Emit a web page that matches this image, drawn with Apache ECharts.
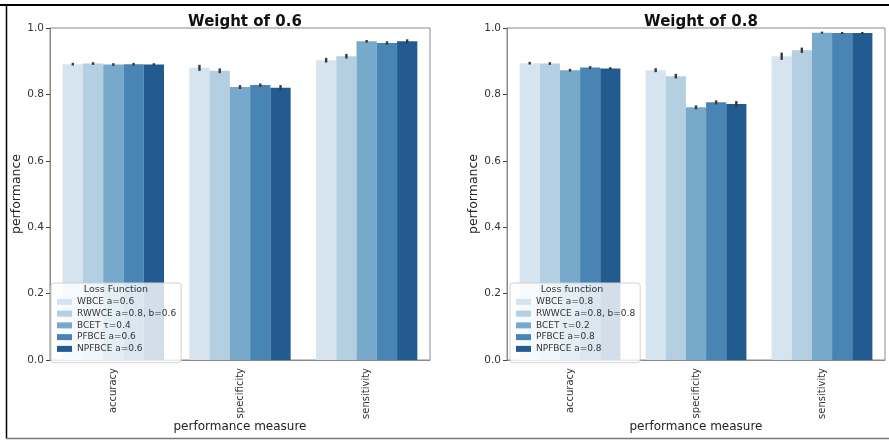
<!DOCTYPE html>
<html><head><meta charset="utf-8">
<script src="https://cdn.jsdelivr.net/npm/echarts@6/dist/echarts.min.js"></script>
<style>html,body{margin:0;padding:0;background:#fff}#c{width:889px;height:440px}</style>
</head><body><div id="c"></div>
<script>
const categories = ['accuracy', 'specificity', 'sensitivity'];
const yTicks = [0.0, 0.2, 0.4, 0.6, 0.8, 1.0];
const colors = ['#d6e4f0', '#b3cfe1', '#77a9cb', '#4884b4', '#225b8f'];

const namesLeft = ['WBCE a=0.6', 'RWWCE a=0.8, b=0.6', 'BCET τ=0.4', 'PFBCE a=0.6', 'NPFBCE a=0.6'];
const namesRight = ['WBCE a=0.8', 'RWWCE a=0.8, b=0.8', 'BCET τ=0.2', 'PFBCE a=0.8', 'NPFBCE a=0.8'];

// values per loss function over [accuracy, specificity, sensitivity]
const left_WBCE   = [0.891, 0.880, 0.903];
const left_RWWCE  = [0.893, 0.871, 0.915];
const left_BCET   = [0.890, 0.822, 0.960];
const left_PFBCE  = [0.891, 0.828, 0.955];
const left_NPFBCE = [0.890, 0.820, 0.960];

const right_WBCE   = [0.894, 0.873, 0.915];
const right_RWWCE  = [0.893, 0.855, 0.933];
const right_BCET   = [0.873, 0.761, 0.986];
const right_PFBCE  = [0.881, 0.776, 0.985];
const right_NPFBCE = [0.878, 0.771, 0.985];

// error bar half-widths
const leftErr_WBCE   = [0.004, 0.009, 0.007];
const leftErr_RWWCE  = [0.004, 0.007, 0.007];
const leftErr_BCET   = [0.004, 0.006, 0.004];
const leftErr_PFBCE  = [0.004, 0.005, 0.005];
const leftErr_NPFBCE = [0.004, 0.008, 0.006];

const rightErr_WBCE   = [0.004, 0.006, 0.011];
const rightErr_RWWCE  = [0.004, 0.007, 0.008];
const rightErr_BCET   = [0.004, 0.006, 0.003];
const rightErr_PFBCE  = [0.004, 0.006, 0.003];
const rightErr_NPFBCE = [0.004, 0.009, 0.003];

const leftVals = [left_WBCE, left_RWWCE, left_BCET, left_PFBCE, left_NPFBCE];
const rightVals = [right_WBCE, right_RWWCE, right_BCET, right_PFBCE, right_NPFBCE];
const leftErrs = [leftErr_WBCE, leftErr_RWWCE, leftErr_BCET, leftErr_PFBCE, leftErr_NPFBCE];
const rightErrs = [rightErr_WBCE, rightErr_RWWCE, rightErr_BCET, rightErr_PFBCE, rightErr_NPFBCE];

const FONT = 'DejaVu Sans';
const chart = echarts.init(document.getElementById('c'), null, {renderer: 'canvas'});

function xAxis(gi) {
  return {
    type: 'category', gridIndex: gi, data: categories,
    name: 'performance measure', nameLocation: 'middle', nameGap: 61, nameMoveOverlap: false,
    nameTextStyle: {fontFamily: FONT, fontSize: 12, color: '#222'},
    axisLine: {lineStyle: {color: '#8a8a8a', width: 1}},
    axisTick: {alignWithLabel: true, length: 4, lineStyle: {color: '#444'}},
    axisLabel: {rotate: 90, fontFamily: FONT, fontSize: 10, color: '#333', margin: 8},
    splitLine: {show: false}
  };
}
function yAxis(gi, gap) {
  return {
    type: 'value', gridIndex: gi, min: 0, max: 1, interval: 0.2,
    name: 'performance', nameLocation: 'middle', nameGap: gap,
    nameTextStyle: {fontFamily: FONT, fontSize: 12.5, color: '#222'},
    axisLine: {show: true, lineStyle: {color: '#8a8a8a', width: 1}},
    axisTick: {show: true, length: 4, lineStyle: {color: '#444'}},
    axisLabel: {fontFamily: FONT, fontSize: 10.5, color: '#333', margin: 6,
      formatter: v => yTicks.find(t => Math.abs(t - v) < 1e-9).toFixed(1)},
    splitLine: {show: false}
  };
}

const series = [];
function addPanel(names, vals, errs, gi) {
  names.forEach((n, i) => {
    series.push({
      type: 'bar', name: n, xAxisIndex: gi, yAxisIndex: gi,
      data: vals[i], barGap: '0%', barCategoryGap: '20%',
      itemStyle: {color: colors[i]}, z: 2
    });
  });
  const errData = [];
  names.forEach((n, i) => {
    categories.forEach((c, ci) => {
      errData.push([ci, vals[i][ci] - errs[i][ci], vals[i][ci] + errs[i][ci], i]);
    });
  });
  series.push({
    type: 'custom', xAxisIndex: gi, yAxisIndex: gi, z: 5, silent: true,
    data: errData,
    encode: {x: 0, y: [1, 2]},
    renderItem: function (params, api) {
      const ci = api.value(0), lo = api.value(1), hi = api.value(2), si = api.value(3);
      const band = api.size([1, 0])[0];
      const p1 = api.coord([ci, lo]);
      const p2 = api.coord([ci, hi]);
      const x = p1[0] - 0.4 * band + (si + 0.5) * 0.16 * band;
      return {type: 'line', shape: {x1: x, y1: p1[1], x2: x, y2: p2[1]},
        style: {stroke: '#3a3a3a', lineWidth: 2.4}};
    }
  });
}
addPanel(namesLeft, leftVals, leftErrs, 0);
addPanel(namesRight, rightVals, rightErrs, 1);

function legend(names, left) {
  return {
    data: names, orient: 'vertical', left: left, top: 283,
    icon: 'rect', itemWidth: 15, itemHeight: 6, itemGap: 0,
    padding: [13, 5, 8, 6],
    backgroundColor: 'rgba(255,255,255,0.8)', borderColor: '#d0d0d0', borderWidth: 1, borderRadius: 3,
    textStyle: {fontFamily: FONT, fontSize: 9, color: '#333', lineHeight: 11.75},
    itemStyle: {borderWidth: 0}, z: 8, selectedMode: false
  };
}

chart.setOption({
  backgroundColor: '#fff',
  animation: false,
  title: [
    {text: 'Weight of 0.6', left: 240, top: 10, textAlign: 'center',
     textStyle: {fontFamily: FONT, fontSize: 15, fontWeight: 'bold', color: '#111'}},
    {text: 'Weight of 0.8', left: 696, top: 10, textAlign: 'center',
     textStyle: {fontFamily: FONT, fontSize: 15, fontWeight: 'bold', color: '#111'}}
  ],
  grid: [
    {left: 50, top: 28, width: 380, height: 332, show: true, borderColor: '#8a8a8a', borderWidth: 1, backgroundColor: 'transparent', containLabel: false, outerBoundsMode: 'none'},
    {left: 507, top: 28, width: 378, height: 332, show: true, borderColor: '#8a8a8a', borderWidth: 1, backgroundColor: 'transparent', containLabel: false, outerBoundsMode: 'none'}
  ],
  xAxis: [xAxis(0), xAxis(1)],
  yAxis: [yAxis(0, 18), yAxis(1, 23)],
  legend: [legend(namesLeft, 51), legend(namesRight, 510)],
  series: series,
  graphic: [
    {type: 'text', x: 116, y: 290, z: 20, style: {text: 'Loss Function', fontFamily: FONT, fontSize: 9.5, fill: '#333', align: 'center', verticalAlign: 'middle'}},
    {type: 'text', x: 572, y: 290, z: 20, style: {text: 'Loss function', fontFamily: FONT, fontSize: 9.5, fill: '#333', align: 'center', verticalAlign: 'middle'}},
    {type: 'line', z: 30, shape: {x1: 0, y1: 5, x2: 889, y2: 5}, style: {stroke: '#000', lineWidth: 2}},
    {type: 'line', z: 30, shape: {x1: 6.5, y1: 4, x2: 6.5, y2: 439}, style: {stroke: '#000', lineWidth: 1.5}},
    {type: 'line', z: 30, shape: {x1: 6, y1: 438.5, x2: 889, y2: 438.5}, style: {stroke: '#777', lineWidth: 1.5}}
  ]
});
</script></body></html>
